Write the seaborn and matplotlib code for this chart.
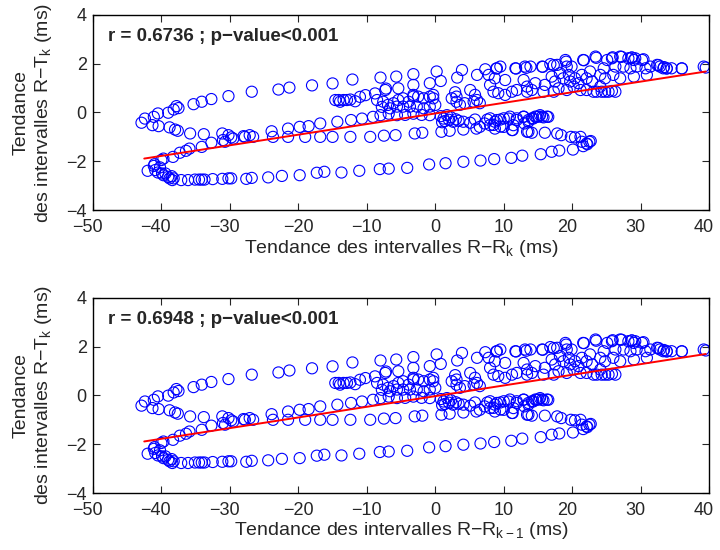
import numpy as np
import pandas as pd
import matplotlib
matplotlib.use("Agg")
import matplotlib.pyplot as plt
from matplotlib.transforms import ScaledTranslation
import seaborn as sns

# ---------------- data ----------------
# upper arm
xa = [-42.9,-42.4,-41.1,-40.5,-39.0,-38.2,-37.8,-37.5,-35.3,-34.1,-32.7,-30.2,-26.8,-22.9,-21.3,-18.0,-15.0,-12.1,-8.0,-5.7,-3.2,0.2,3.9,7.3,8.9,11.8,13.3,15.7,17.3,19.1,21.7,23.5,25.9,27.2,28.7,29.2,30.4,32.6,33.4,33.8,36.0,39.5]
ya = [-0.42,-0.25,-0.18,-0.04,-0.01,0.12,0.26,0.18,0.34,0.44,0.55,0.67,0.85,0.94,1.02,1.11,1.19,1.35,1.43,1.47,1.57,1.68,1.74,1.77,1.80,1.80,1.83,1.87,1.94,2.08,2.14,2.24,2.26,2.28,2.25,2.22,2.18,1.94,1.86,1.80,1.80,1.84]
# middle arm
xb = [-41.3,-40.4,-38.8,-38.0,-37.6,-35.8,-33.8,-31.1,-30.2,-27.1,-26.6,-23.9,-21.5,-19.8,-18.5,-16.8,-14.3,-12.3,-10.7,-9.1,-8.0,-6.8,-5.6,-4.4,-3.2,-2.0,-0.8]
yb = [-0.52,-0.56,-0.61,-0.70,-0.75,-0.86,-0.89,-0.86,-0.93,-0.93,-1.00,-0.77,-0.66,-0.59,-0.56,-0.45,-0.38,-0.31,-0.25,-0.18,-0.11,-0.05,-0.11,-0.10,-0.05,-0.10,-0.11]
# row near -1
xc = [-29.8,-27.8,-23.7,-21.5,-19.0,-16.8,-15.0,-12.4,-9.5,-7.5,-5.8,-3.0,-1.9,0.9,2.1,4.1,6.0,8.7,11.3,13.4,14.1,16.0,17.8,18.4,19.8,20.4,21.2,21.4,22.1,22.5,22.7,8.5,9.5,11.2,13.6]
yc = [-1.02,-1.00,-1.00,-1.00,-1.00,-1.00,-1.00,-1.00,-1.00,-0.95,-0.93,-0.86,-0.83,-0.79,-0.75,-0.70,-0.66,-0.66,-0.72,-0.79,-0.83,-0.83,-0.86,-0.93,-1.00,-1.02,-1.00,-1.20,-1.27,-1.20,-1.17,-0.51,-0.58,-0.72,-0.79]
# rising lower band
xd = [-42.0,-41.0,-40.0,-39.7,-38.3,-37.3,-36.4,-35.9,-34.1,-32.7,-31.0,-30.7,-29.5,-28.0]
yd = [-2.39,-2.12,-1.95,-1.89,-1.82,-1.65,-1.57,-1.48,-1.41,-1.24,-1.13,-1.20,-1.07,-0.97]
# bottom-left cluster
xe = [-41.1,-40.9,-40.5,-40.2,-39.9,-39.7,-39.4,-39.0,-38.8,-38.5,-38.4,-38.2,-37.1]
ye = [-2.19,-2.36,-2.46,-2.25,-2.50,-2.57,-2.50,-2.64,-2.70,-2.61,-2.77,-2.70,-2.77]
# bottom band
xf = [-36.1,-35.1,-34.5,-34.1,-33.7,-32.5,-31.1,-30.2,-29.8,-27.6,-26.8,-24.4,-22.4,-19.8,-17.3,-16.2,-13.7,-11.1,-8.1,-6.8,-4.1,-0.9,1.5,4.1,6.6,8.6,11.1,12.7,15.4,17.0,18.1,20.1,21.6,22.2]
yf = [-2.77,-2.75,-2.75,-2.75,-2.75,-2.73,-2.72,-2.70,-2.70,-2.72,-2.68,-2.66,-2.60,-2.57,-2.47,-2.43,-2.46,-2.39,-2.32,-2.30,-2.27,-2.13,-2.08,-2.02,-1.97,-1.91,-1.86,-1.77,-1.71,-1.61,-1.56,-1.52,-1.38,-1.30]
# inner tongue
xg = [0.8,1.2,1.4,1.7,2.0,2.3,1.0,2.6,3.0,3.4,4.1,5.1,5.8,6.5,7.6,8.0,8.7,9.5,10.0,10.7,11.4,11.9,12.9,13.6,14.3,14.8,15.3,15.8,16.5,13.0,7.2,8.0,9.0,10.0,10.9,11.9,12.9,13.6,14.1,14.6,15.1,15.6,16.3]
yg = [-0.15,-0.25,-0.35,-0.11,-0.30,-0.20,-0.40,-0.38,-0.28,-0.34,-0.38,-0.42,-0.29,-0.59,-0.29,-0.52,-0.38,-0.29,-0.59,-0.25,-0.52,-0.31,-0.18,-0.38,-0.25,-0.18,-0.11,-0.20,-0.18,-0.45,-0.45,-0.24,-0.31,-0.24,-0.17,-0.24,-0.17,-0.31,-0.24,-0.17,-0.17,-0.17,-0.17]
# central cloud
xh = [-14.6,-14.1,-13.9,-13.4,-12.9,-12.4,-11.7,-11.0,-10.2,-8.8,-8.5,-7.8,-7.2,-7.6,-6.9,-6.1,-5.4,-4.7,-3.9,-3.2,-2.5,-1.7,-0.8,-0.3,-6.6,-5.6,-4.7,-3.7,-2.7,-1.7,-0.8,0.0,2.4,3.1,3.6,4.3,5.6,6.5,-7.3,-5.4,-3.2,-0.3,2.9,3.1,5.1,5.8,6.1,8.0,0.8,-0.8,-3.2,3.2,6.1,7.8]
yh = [0.51,0.51,0.44,0.51,0.51,0.53,0.46,0.64,0.71,0.78,0.51,0.23,0.98,0.44,0.31,0.38,0.51,0.58,0.44,0.65,0.65,0.58,0.65,0.58,0.17,0.24,0.24,0.24,0.24,0.17,0.24,0.31,0.58,0.44,0.31,0.38,0.44,0.38,0.92,0.99,0.72,0.72,0.83,0.65,0.92,0.72,0.51,1.13,1.29,1.20,1.13,1.43,1.54,1.54]
# right cloud
xi = [9.0,9.5,11.7,13.1,13.9,15.6,16.8,17.8,19.0,19.2,19.9,21.6,23.4,8.7,10.2,12.9,13.4,14.6,16.0,17.0,17.5,18.2,18.7,19.5,19.7,20.4,20.9,21.4,22.1,22.6,22.9,24.1,8.5,9.2,10.2,11.2,11.9,13.4,14.1,15.8,17.3,18.0,19.2,20.2,21.2,22.1,23.1,23.6]
yi = [1.81,1.88,1.81,1.88,1.88,1.88,1.98,1.95,2.15,1.88,1.88,2.15,2.29,1.40,1.33,1.33,1.06,1.20,1.13,1.47,1.27,1.61,1.40,1.54,1.27,1.40,1.20,1.54,1.40,1.68,1.27,1.54,0.85,0.79,0.72,0.85,0.92,0.85,0.92,0.85,0.85,0.99,0.92,1.06,0.92,0.92,0.85,0.85]
# far right cloud
xj = [25.1,25.8,27.0,28.2,28.7,29.0,30.2,24.6,26.3,27.5,28.5,29.4,30.7,31.4,32.4,32.8,33.3,33.8,34.5,36.0,39.2,24.8,26.0,27.0,29.0,30.9,24.3,24.8,25.3,25.8,26.3,24.1]
yj = [2.15,2.22,2.29,2.22,2.25,2.15,2.15,1.81,1.88,1.88,1.81,1.88,1.81,1.88,1.95,1.88,1.81,1.81,1.81,1.81,1.88,1.40,1.54,1.40,1.47,1.54,0.85,0.85,0.85,0.88,0.85,1.06]

# regression lines
fit_x = [-42.5, 39.5]
slope_top, intercept_top = 0.0435, -0.04
slope_bot, intercept_bot = 0.0437, -0.03

x_all = xa + xb + xc + xd + xe + xf + xg + xh + xi + xj
y_all = ya + yb + yc + yd + ye + yf + yg + yh + yi + yj

panels = [
    dict(x=x_all, y=y_all, slope=slope_top, icpt=intercept_top,
         text="r = 0.6736 ; p\u2212value<0.001",
         xlabel=r"Tendance des intervalles R$-$R$_{\mathregular{k}}$ (ms)"),
    dict(x=x_all, y=y_all, slope=slope_bot, icpt=intercept_bot,
         text="r = 0.6948 ; p\u2212value<0.001",
         xlabel=r"Tendance des intervalles R$-$R$_{\mathregular{k-1}}$ (ms)"),
]
ylabel = "Tendance\n" + r"des intervalles R$-$T$_{\mathregular{k}}$ (ms)"
xticks = [-50, -40, -30, -20, -10, 0, 10, 20, 30, 40]
yticks = [-4, -2, 0, 2, 4]

# ---------------- style ----------------
sns.set_style("ticks")
plt.rcParams['font.family'] = ['Liberation Sans', 'DejaVu Sans']
plt.rcParams['mathtext.fontset'] = 'custom'
plt.rcParams['mathtext.rm'] = 'Liberation Sans'
plt.rcParams['mathtext.it'] = 'Liberation Sans'
plt.rcParams['axes.unicode_minus'] = True

fig = plt.figure(figsize=(7.2, 5.5), dpi=100)
rects = [[0.129, 0.618, 0.856, 0.355], [0.129, 0.1036, 0.856, 0.355]]

for rect, p in zip(rects, panels):
    ax = fig.add_axes(rect)
    df = pd.DataFrame({"x": p["x"], "y": p["y"]})
    sns.scatterplot(data=df, x="x", y="y", ax=ax, s=64, marker="o",
                    facecolors="none", edgecolor=(0, 0, 1), linewidth=0.8)
    fx = np.array(fit_x)
    sns.lineplot(x=fx, y=p["icpt"] + p["slope"] * fx, ax=ax, color=(1, 0, 0), linewidth=1.4)
    ax.set_xlim(-50, 40)
    ax.set_ylim(-4, 4)
    ax.set_xticks(xticks)
    ax.set_yticks(yticks)
    ax.tick_params(direction="in", top=True, right=True, labelsize=13, length=5, width=0.8)
    ax.tick_params(axis="x", pad=6.5)
    ax.tick_params(axis="y", pad=4.5)
    for s in ax.spines.values():
        s.set_linewidth(1.0)
        s.set_color("black")
    ax.set_xlabel(p["xlabel"], fontsize=14, labelpad=1)
    ax.set_ylabel(ylabel, fontsize=14, multialignment="center", labelpad=9)
    ax.text(-47.8, 3.1, p["text"], fontsize=13.5, fontweight="bold", va="center", ha="left")
    # MATLAB-style: digits centred on tick, minus sign hanging left
    for t in ax.xaxis.get_major_ticks():
        if t.get_loc() < 0:
            t.label1.set_transform(t.label1.get_transform() +
                                   ScaledTranslation(-5.5 / 100, 0, fig.dpi_scale_trans))

fig.savefig("out.png", dpi=100)
